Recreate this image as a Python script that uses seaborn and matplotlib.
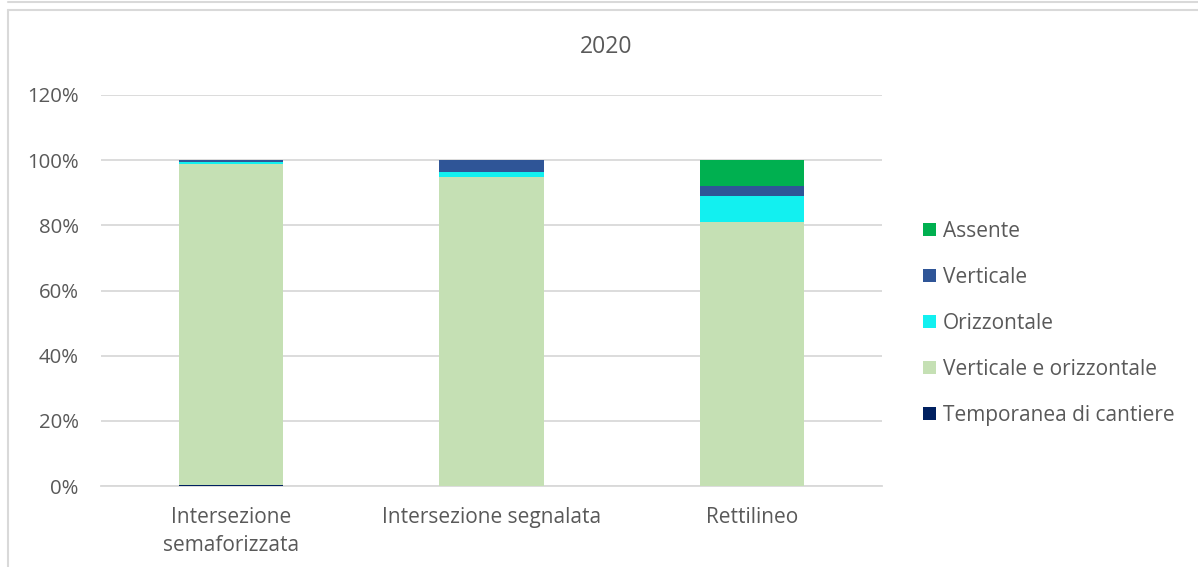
import numpy as np
import pandas as pd
import matplotlib
matplotlib.use("Agg")
import matplotlib.pyplot as plt
from matplotlib.patches import Patch
from matplotlib.lines import Line2D
import seaborn as sns

# data (percent of each category, stacked bottom -> top)
categories = ["Intersezione\nsemaforizzata", "Intersezione segnalata", "Rettilineo"]
series = ["Temporanea di cantiere", "Verticale e orizzontale", "Orizzontale", "Verticale", "Assente"]
temporanea = [0.25, 0.0, 0.0]
vert_orizz = [98.45, 94.8, 81.1]
orizzontale = [0.8, 1.6, 7.9]
verticale = [0.5, 3.6, 3.1]
assente = [0.0, 0.0, 7.9]
colors = ["#002060", "#C5E0B4", "#12F0F0", "#2F5597", "#00B050"]

sns.set_theme(style="white")
plt.rcParams["font.family"] = ["Open Sans", "DejaVu Sans"]
text_col = "#595959"
grid_col = "#D9D9D9"

values = [temporanea, vert_orizz, orizzontale, verticale, assente]
cum = np.cumsum(np.array(values), axis=0) / 100.0

fig = plt.figure(figsize=(11.98, 5.67), dpi=100)
ax = fig.add_axes([101 / 1198, 1 - 486 / 567, 781 / 1198, 391 / 567])

# draw cumulative totals from the top layer down so each layer shows as a stack
for i in range(len(series) - 1, -1, -1):
    df = pd.DataFrame({"cat": categories, "val": cum[i]})
    sns.barplot(data=df, x="cat", y="val", color=colors[i], width=0.4,
                saturation=1, linewidth=0, ax=ax, zorder=3)

ax.set_ylim(0, 1.2)
ax.set_xlim(-0.5, 2.5)
ax.set_yticks(np.arange(0, 1.21, 0.2))
ax.set_yticklabels([f"{int(round(t * 100))}%" for t in np.arange(0, 1.21, 0.2)])
ax.set_xlabel("")
ax.set_ylabel("")
ax.grid(axis="y", color=grid_col, linewidth=1.3, zorder=0)
ax.set_axisbelow(True)
for s in ["top", "right", "left"]:
    ax.spines[s].set_visible(False)
ax.spines["bottom"].set_color(grid_col)
ax.spines["bottom"].set_linewidth(1.3)
ax.tick_params(axis="y", length=0, pad=16, labelsize=14.7, labelcolor=text_col)
ax.tick_params(axis="x", length=0, pad=15, labelsize=15, labelcolor=text_col)
for lbl in ax.get_xticklabels():
    lbl.set_linespacing(1.44)

fig.text(606 / 1198, 1 - 47 / 567, "2020", ha="center", va="center",
         fontsize=16.5, color=text_col)

handles = [Patch(facecolor=colors[i], edgecolor="none") for i in range(len(series) - 1, -1, -1)]
labels = series[::-1]
fig.legend(handles, labels, loc="upper left", bbox_to_anchor=(923 / 1198, 1 - 221 / 567),
           frameon=False, fontsize=15, labelcolor=text_col, handlelength=0.62,
           handleheight=0.62, handletextpad=0.34, labelspacing=1.2, borderpad=0,
           borderaxespad=0)

# outer chart frame
fig.add_artist(Line2D([8 / 1198, 8 / 1198], [0, 1 - 10 / 567], color=grid_col, lw=1.5))
fig.add_artist(Line2D([8 / 1198, 1], [1 - 10 / 567, 1 - 10 / 567], color=grid_col, lw=1.5))
fig.add_artist(Line2D([8 / 1198, 1], [1 - 1.5 / 567, 1 - 1.5 / 567], color=grid_col, lw=1.5))

fig.savefig("out.png", dpi=100, facecolor="white")
